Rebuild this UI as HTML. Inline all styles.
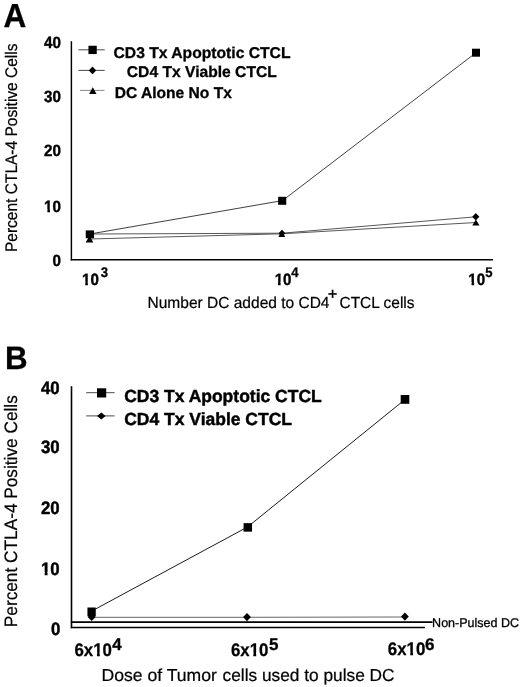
<!DOCTYPE html>
<html><head><meta charset="utf-8"><title>Figure</title>
<style>
html,body{margin:0;padding:0;background:#fff;}
body{width:520px;height:687px;overflow:hidden;}
svg{display:block;}
text{font-family:"Liberation Sans",sans-serif;fill:#000;text-rendering:geometricPrecision;}
.b{font-weight:bold;stroke:#000;stroke-width:0.3;}
.n{stroke:#000;stroke-width:0.22;}
</style></head><body>
<svg width="520" height="687" viewBox="0 0 520 687">
<rect width="520" height="687" fill="#fff"/>
<defs>
<clipPath id="c0" clipPathUnits="userSpaceOnUse"><path clip-rule="evenodd" d="M39.10 192.44H66.00V218.52H39.10Z M43.90 209.14H47.42V214.50H43.90Z M50.00 209.14H52.99V214.50H50.00Z"/></clipPath>
<clipPath id="c1" clipPathUnits="userSpaceOnUse"><path clip-rule="evenodd" d="M77.00 265.30H103.80V291.70H77.00Z M81.80 282.12H85.30V287.50H81.80Z M87.87 282.12H90.84V287.50H87.87Z"/></clipPath>
<clipPath id="c2" clipPathUnits="userSpaceOnUse"><path clip-rule="evenodd" d="M269.70 265.30H296.50V291.70H269.70Z M274.50 282.12H278.00V287.50H274.50Z M280.57 282.12H283.54V287.50H280.57Z"/></clipPath>
<clipPath id="c3" clipPathUnits="userSpaceOnUse"><path clip-rule="evenodd" d="M463.30 265.30H490.10V291.70H463.30Z M468.10 282.12H471.60V287.50H468.10Z M474.17 282.12H477.14V287.50H474.17Z"/></clipPath>
<clipPath id="c4" clipPathUnits="userSpaceOnUse"><path clip-rule="evenodd" d="M36.00 553.40H64.70V582.20H36.00Z M40.80 571.96H44.70V577.50H40.80Z M47.50 571.96H50.84V577.50H47.50Z"/></clipPath>
<clipPath id="c5" clipPathUnits="userSpaceOnUse"><path clip-rule="evenodd" d="M69.50 633.86H117.00V662.98H69.50Z M93.05 652.93H96.96V658.50H93.05Z M99.77 652.93H103.11V658.50H99.77Z"/></clipPath>
<clipPath id="c6" clipPathUnits="userSpaceOnUse"><path clip-rule="evenodd" d="M225.90 633.86H273.40V662.98H225.90Z M249.45 652.93H253.36V658.50H249.45Z M256.17 652.93H259.51V658.50H256.17Z"/></clipPath>
<clipPath id="c7" clipPathUnits="userSpaceOnUse"><path clip-rule="evenodd" d="M382.80 633.46H430.30V662.58H382.80Z M406.35 651.93H410.26V657.50H406.35Z M413.07 651.93H416.41V657.50H413.07Z"/></clipPath>
</defs>
<text x="3.4" y="26.8" font-size="33.4" class="b" textLength="22.8" lengthAdjust="spacingAndGlyphs">A</text>
<g stroke="#000" stroke-width="1.45" fill="none">
<line x1="71.4" y1="41.2" x2="71.4" y2="260.5"/>
<line x1="70.7" y1="259.75" x2="493" y2="259.75"/>
</g>
<text x="61" y="48" font-size="16.3" class="b" textLength="16.9" lengthAdjust="spacingAndGlyphs" text-anchor="end" style="stroke-width:0.4">40</text>
<text x="61" y="102" font-size="16.3" class="b" textLength="16.9" lengthAdjust="spacingAndGlyphs" text-anchor="end" style="stroke-width:0.4">30</text>
<text x="61" y="156" font-size="16.3" class="b" textLength="16.9" lengthAdjust="spacingAndGlyphs" text-anchor="end" style="stroke-width:0.4">20</text>
<g clip-path="url(#c0)"><text x="61" y="212" font-size="16.3" class="b" textLength="16.9" lengthAdjust="spacingAndGlyphs" text-anchor="end" style="stroke-width:0.4">10</text></g>
<text x="61" y="266" font-size="16.3" class="b" textLength="8.45" lengthAdjust="spacingAndGlyphs" text-anchor="end" style="stroke-width:0.4">0</text>
<text transform="translate(16.9,252) rotate(-90)" font-size="16.8" class="n" textLength="208.5" lengthAdjust="spacingAndGlyphs">Percent CTLA-4 Positive Cells</text>
<g stroke="#2a2a2a" stroke-width="0.9" fill="none">
<polyline points="90,234 282.5,200.6 476,52.7"/>
<polyline points="90,234 282,233.2 476,216.8" stroke="#3a3a3a" stroke-width="0.85"/>
<polyline points="90,239 282,233.8 476,222.5" stroke="#3a3a3a" stroke-width="0.85"/>
</g>
<rect x="85.75" y="230.40" width="8.3" height="7.8"/>
<rect x="278.15" y="196.80" width="8.1" height="8"/>
<rect x="472.00" y="48.70" width="8" height="8"/>
<path d="M475.8 213.0 L479.40000000000003 216.8 L475.8 220.60000000000002 L472.2 216.8z"/>
<path d="M282 229.8 L285.4 233.3 L282 236.8 L278.6 233.3z"/>
<path d="M89.5 235.5 L93.3 242.6 L85.7 242.6z"/>
<path d="M281.8 230 L285.2 237 L278.40000000000003 237z"/>
<path d="M475.9 219.5 L479.5 225.5 L472.29999999999995 225.5z"/>
<g stroke="#1a1a1a" stroke-width="0.8">
<line x1="78.3" y1="49.8" x2="104.7" y2="49.8"/>
<line x1="78.3" y1="70.4" x2="104.7" y2="70.4"/>
<line x1="80" y1="90.4" x2="104.5" y2="90.4" stroke="#555" stroke-width="0.7"/>
</g>
<rect x="88.45" y="45.75" width="8.3" height="8.3"/>
<path d="M92.5 66.60000000000001 L96.2 70.4 L92.5 74.2 L88.8 70.4z"/>
<path d="M92.8 87.3 L96.5 93.9 L89.1 93.9z"/>
<text x="113.5" y="57.5" font-size="15.6" class="b" textLength="177" lengthAdjust="spacingAndGlyphs">CD3 Tx Apoptotic CTCL</text>
<text x="126.8" y="77.4" font-size="15.6" class="b" textLength="150" lengthAdjust="spacingAndGlyphs">CD4 Tx Viable CTCL</text>
<text x="114.8" y="98.3" font-size="15.6" class="b" textLength="117" lengthAdjust="spacingAndGlyphs">DC Alone No Tx</text>
<g clip-path="url(#c1)"><text x="82" y="285.1" font-size="16.5" class="b" textLength="16.8" lengthAdjust="spacingAndGlyphs" style="stroke-width:0.4">10</text></g>
<text x="100.7" y="276.8" font-size="13.9" class="b" textLength="7.3" lengthAdjust="spacingAndGlyphs">3</text>
<g clip-path="url(#c2)"><text x="274.7" y="285.1" font-size="16.5" class="b" textLength="16.8" lengthAdjust="spacingAndGlyphs" style="stroke-width:0.4">10</text></g>
<text x="291.3" y="276.8" font-size="13.9" class="b" textLength="7.3" lengthAdjust="spacingAndGlyphs">4</text>
<g clip-path="url(#c3)"><text x="468.3" y="285.1" font-size="16.5" class="b" textLength="16.8" lengthAdjust="spacingAndGlyphs" style="stroke-width:0.4">10</text></g>
<text x="485.2" y="276.8" font-size="13.9" class="b" textLength="7.3" lengthAdjust="spacingAndGlyphs">5</text>
<text x="147.5" y="307.6" font-size="16" class="n" textLength="182" lengthAdjust="spacingAndGlyphs">Number DC added to CD4</text>
<text x="328" y="298.9" font-size="15.6" class="n" style="stroke-width:0.5">+</text>
<text x="339.5" y="307.6" font-size="16" class="n" textLength="75" lengthAdjust="spacingAndGlyphs">CTCL cells</text>
<text x="4.9" y="369.2" font-size="32.4" class="b" textLength="22.6" lengthAdjust="spacingAndGlyphs">B</text>
<g stroke="#000" stroke-width="1.6" fill="none">
<line x1="71.5" y1="386.2" x2="71.5" y2="628.2"/>
<line x1="70.8" y1="622.1" x2="432.5" y2="622.1"/>
<line x1="70.8" y1="627.5" x2="425" y2="627.5"/>
</g>
<text x="59.7" y="394" font-size="18" class="b" textLength="18.7" lengthAdjust="spacingAndGlyphs" text-anchor="end" style="stroke-width:0.45">40</text>
<text x="59.7" y="453" font-size="18" class="b" textLength="18.7" lengthAdjust="spacingAndGlyphs" text-anchor="end" style="stroke-width:0.45">30</text>
<text x="59.7" y="514" font-size="18" class="b" textLength="18.7" lengthAdjust="spacingAndGlyphs" text-anchor="end" style="stroke-width:0.45">20</text>
<g clip-path="url(#c4)"><text x="59.7" y="575" font-size="18" class="b" textLength="18.7" lengthAdjust="spacingAndGlyphs" text-anchor="end" style="stroke-width:0.45">10</text></g>
<text x="60.3" y="635" font-size="18" class="b" textLength="9.35" lengthAdjust="spacingAndGlyphs" text-anchor="end" style="stroke-width:0.45">0</text>
<text transform="translate(17.1,627.2) rotate(-90)" font-size="18" class="n" textLength="232" lengthAdjust="spacingAndGlyphs">Percent CTLA-4 Positive Cells</text>
<g stroke="#1a1a1a" stroke-width="1" fill="none">
<polyline points="91.5,611.2 247.5,527 405,399.5"/>
<polyline points="91.5,617.3 247,617.3 405,617" stroke="#555" stroke-width="0.9"/>
</g>
<rect x="87.45" y="607.50" width="8.3" height="8.8"/>
<rect x="243.55" y="523.15" width="8.5" height="8.5"/>
<rect x="400.70" y="395.00" width="8.6" height="8.8"/>
<path d="M91.6 613 L95.6 617 L91.6 621 L87.6 617z"/>
<path d="M247 613.0 L250.9 617.1 L247 621.2 L243.1 617.1z"/>
<path d="M404.9 612.5 L408.79999999999995 616.6 L404.9 620.7 L401.0 616.6z"/>
<g stroke="#1a1a1a" stroke-width="0.8">
<line x1="86.2" y1="392.7" x2="114.6" y2="392.7"/>
<line x1="86.2" y1="415.9" x2="114.6" y2="415.9"/>
</g>
<rect x="97.00" y="388.30" width="9.2" height="9.2"/>
<path d="M101.3 412.4 L105.6 415.9 L101.3 419.4 L97.0 415.9z"/>
<text x="124.2" y="401.8" font-size="17.5" class="b" textLength="197.5" lengthAdjust="spacingAndGlyphs" style="stroke-width:0.45">CD3 Tx Apoptotic CTCL</text>
<text x="124.2" y="425" font-size="17.5" class="b" textLength="167.8" lengthAdjust="spacingAndGlyphs" style="stroke-width:0.45">CD4 Tx Viable CTCL</text>
<g clip-path="url(#c5)"><text x="74.5" y="655.7" font-size="18.2" class="b" textLength="37.5" lengthAdjust="spacingAndGlyphs">6x10</text></g>
<text x="112.3" y="649.9" font-size="17" class="b">4</text>
<g clip-path="url(#c6)"><text x="230.9" y="655.7" font-size="18.2" class="b" textLength="37.5" lengthAdjust="spacingAndGlyphs">6x10</text></g>
<text x="268.9" y="649.9" font-size="17" class="b">5</text>
<g clip-path="url(#c7)"><text x="387.8" y="655.3" font-size="18.2" class="b" textLength="37.5" lengthAdjust="spacingAndGlyphs">6x10</text></g>
<text x="424.9" y="649.6" font-size="17" class="b">6</text>
<text x="432.1" y="627" font-size="12.6" class="n" textLength="87" lengthAdjust="spacingAndGlyphs" style="stroke-width:0.3">Non-Pulsed DC</text>
<text x="101.5" y="681.2" font-size="17.3" class="n" textLength="115.3" lengthAdjust="spacingAndGlyphs">Dose of Tumor</text>
<text x="222.6" y="681.2" font-size="17.3" class="n" textLength="172" lengthAdjust="spacingAndGlyphs">cells used to pulse DC</text>
</svg>
</body></html>
